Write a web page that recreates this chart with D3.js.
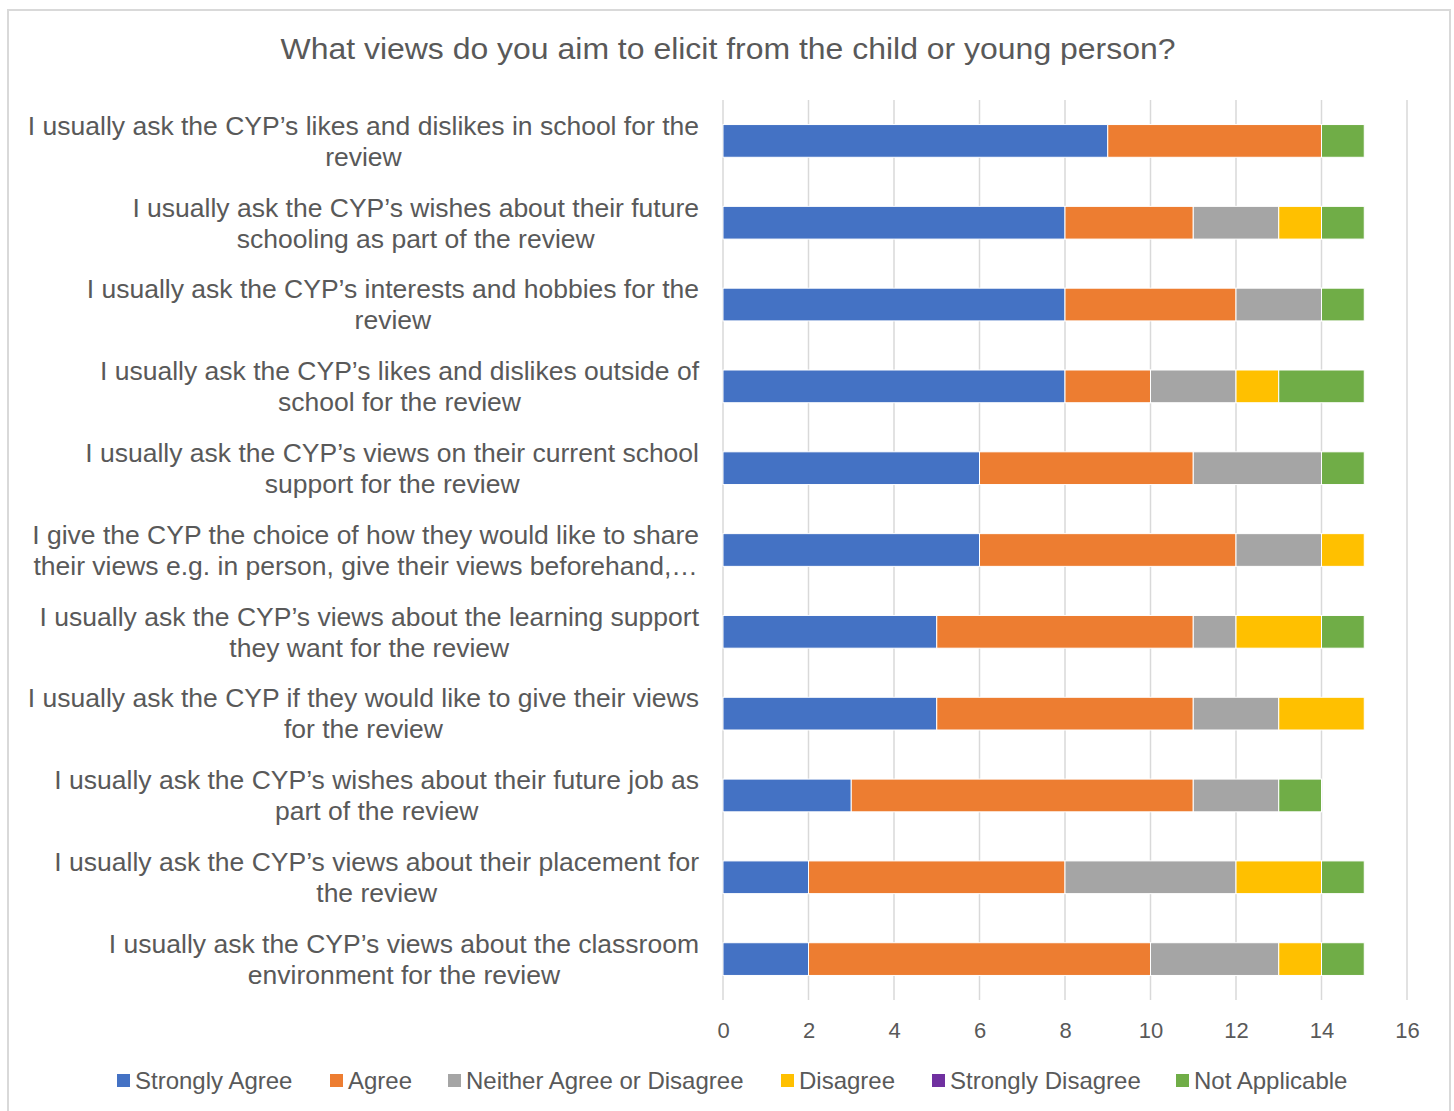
<!DOCTYPE html>
<html>
<head>
<meta charset="utf-8">
<script src="https://cdn.jsdelivr.net/npm/d3@7"></script>
<style>
  html, body { margin: 0; padding: 0; background: #fff; }
  svg text { font-family: "Liberation Sans", Arial, sans-serif; fill: #595959; }
</style>
</head>
<body>
<svg id="chart" width="1454" height="1111"></svg>
<script>
// Survey statements (line breaks mark how each label wraps)
const categories = [
  "I usually ask the CYP\u2019s likes and dislikes in school for the\nreview",
  "I usually ask the CYP\u2019s wishes about their future\nschooling as part of the review",
  "I usually ask the CYP\u2019s interests and hobbies for the\nreview",
  "I usually ask the CYP\u2019s likes and dislikes outside of\nschool for the review",
  "I usually ask the CYP\u2019s views on their current school\nsupport for the review",
  "I give the CYP the choice of how they would like to share\ntheir views e.g. in person, give their views beforehand,\u2026",
  "I usually ask the CYP\u2019s views about the learning support\nthey want for the review",
  "I usually ask the CYP if they would like to give their views\nfor the review",
  "I usually ask the CYP\u2019s wishes about their future job as\npart of the review",
  "I usually ask the CYP\u2019s views about their placement for\nthe review",
  "I usually ask the CYP\u2019s views about the classroom\nenvironment for the review"
];

const seriesNames = ["Strongly Agree", "Agree", "Neither Agree or Disagree", "Disagree", "Strongly Disagree", "Not Applicable"];
const seriesColors = ["#4472C4", "#ED7D31", "#A5A5A5", "#FFC000", "#7030A0", "#70AD47"];

const stronglyAgree    = [9, 8, 8, 8, 6, 6, 5, 5, 3, 2, 2];
const agree            = [5, 3, 4, 2, 5, 6, 6, 6, 8, 6, 8];
const neither          = [0, 2, 2, 2, 3, 2, 1, 2, 2, 4, 3];
const disagree         = [0, 1, 0, 1, 0, 1, 2, 2, 0, 2, 1];
const stronglyDisagree = [0, 0, 0, 0, 0, 0, 0, 0, 0, 0, 0];
const notApplicable    = [1, 1, 1, 2, 1, 0, 1, 0, 1, 1, 1];

const xTicks = [0, 2, 4, 6, 8, 10, 12, 14, 16];

const seriesValues = [stronglyAgree, agree, neither, disagree, stronglyDisagree, notApplicable];

const svg = d3.select("#chart");

// chart frame
svg.append("rect")
  .attr("x", 8).attr("y", 10).attr("width", 1442).attr("height", 1110)
  .attr("fill", "#fff").attr("stroke", "#d9d9d9").attr("stroke-width", 2);

// title
svg.append("text")
  .attr("x", 728).attr("y", 59)
  .attr("text-anchor", "middle")
  .attr("textLength", 895)
  .attr("lengthAdjust", "spacingAndGlyphs")
  .style("font-size", "29px")
  .text("What views do you aim to elicit from the child or young person?");

const plot = { left: 723, right: 1407, top: 100, bottom: 1000 };

const x = d3.scaleLinear().domain([0, 16]).range([plot.left, plot.right]);
const y = d3.scaleBand().domain(d3.range(categories.length))
  .range([plot.top, plot.bottom]).paddingInner(0.6).paddingOuter(0.3);

// vertical gridlines
svg.append("g").selectAll("line").data(xTicks).join("line")
  .attr("x1", d => x(d)).attr("x2", d => x(d))
  .attr("y1", plot.top).attr("y2", plot.bottom)
  .attr("stroke", "#d9d9d9").attr("stroke-width", 1.5);

// stacked data
const rows = categories.map((c, i) => {
  const r = { i };
  seriesNames.forEach((s, k) => r[s] = seriesValues[k][i]);
  return r;
});
const stacked = d3.stack().keys(seriesNames)(rows);

svg.append("g").selectAll("g").data(stacked).join("g")
  .attr("fill", (d, k) => seriesColors[k])
  .selectAll("rect").data(d => d.filter(p => p[1] > p[0])).join("rect")
  .attr("x", d => x(d[0]))
  .attr("width", d => x(d[1]) - x(d[0]))
  .attr("y", d => y(d.data.i))
  .attr("height", y.bandwidth())
  .attr("stroke", "#fff").attr("stroke-width", 1);

// x axis tick labels
const xAxis = d3.axisBottom(x).tickValues(xTicks).tickSize(0).tickPadding(0);
const gx = svg.append("g").attr("transform", `translate(0,${plot.bottom})`).call(xAxis);
gx.select(".domain").remove();
gx.selectAll("text")
  .attr("y", 30)
  .attr("dy", "0.35em")
  .style("font-size", "22px")
  .style("font-family", "'Liberation Sans', Arial, sans-serif")
  .attr("fill", "#595959");

// category labels: block right-aligned, lines centred inside it
const labelRight = 699;
const lineGap = 31;
const lg = svg.append("g");
categories.forEach((c, i) => {
  const lines = c.split("\n");
  const cy = y(i) + y.bandwidth() / 2;
  const g = lg.append("g");
  const texts = lines.map((ln, j) => g.append("text")
    .attr("y", cy + (j - (lines.length - 1) / 2) * lineGap)
    .attr("dy", "0.35em")
    .attr("text-anchor", "middle")
    .style("font-size", "26.5px")
    .text(ln));
  const w = d3.max(texts, t => t.node().getComputedTextLength());
  texts.forEach(t => t.attr("x", labelRight - w / 2));
});

// legend
const legendX = [117, 330, 448, 781, 932, 1176];
const lgd = svg.append("g");
seriesNames.forEach((s, k) => {
  lgd.append("rect")
    .attr("x", legendX[k]).attr("y", 1074)
    .attr("width", 13).attr("height", 13)
    .attr("fill", seriesColors[k]);
  lgd.append("text")
    .attr("x", legendX[k] + 18).attr("y", 1081)
    .attr("dy", "0.35em")
    .style("font-size", "24px")
    .text(s);
});
</script>
</body>
</html>
